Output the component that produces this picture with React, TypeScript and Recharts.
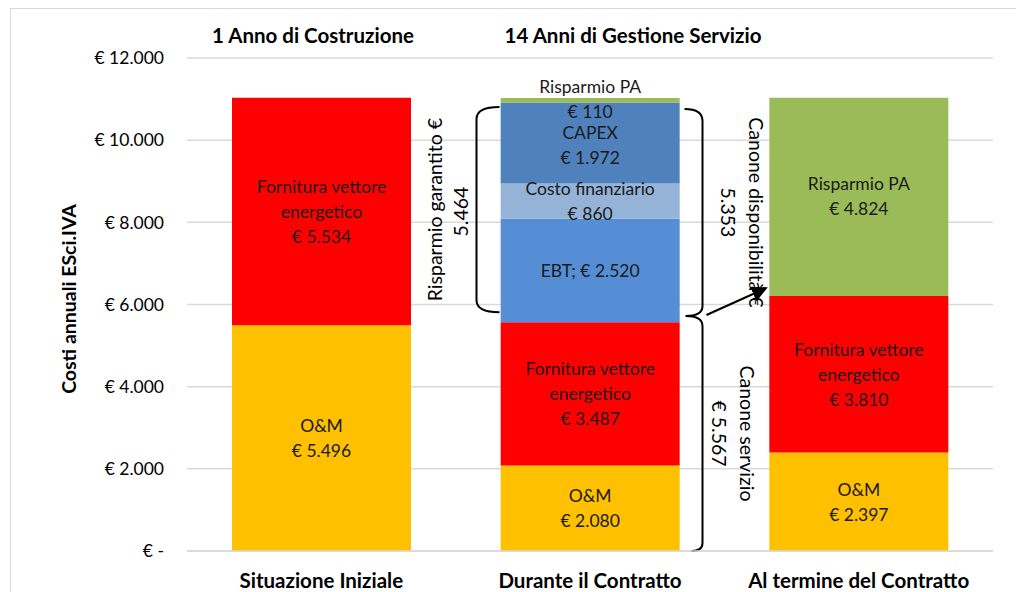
import React from 'react';
import {
  BarChart,
  Bar,
  XAxis,
  YAxis,
  CartesianGrid,
  LabelList,
  Customized,
} from 'recharts';

// ── Data ──────────────────────────────────────────────────────────────────────

const categories = ['Situazione Iniziale', 'Durante il Contratto', 'Al termine del Contratto'];
const omValues = [5496, 2080, 2397];
const fornituraValues = [5534, 3487, 3810];
const ebtValues = [0, 2520, 0];
const costoFinValues = [0, 860, 0];
const capexValues = [0, 1972, 0];
const risparmioValues = [0, 110, 4824];
const yTicks = [0, 2000, 4000, 6000, 8000, 10000, 12000];
const phaseTitles = ['1 Anno di Costruzione', '14 Anni di Gestione Servizio'];

// brace annotations (value ranges on the y axis)
const risparmioGarantito = { label: 'Risparmio garantito €', value: '5.464', from: 5810, to: 10810 };
const canoneDisponibilita = { label: 'Canone disponibilità €', value: '5.353', from: 5720, to: 10760 };
const canoneServizio = { label: 'Canone servizio', value: '€ 5.567', from: 0, to: 5720 };

const data = categories.map((name, i) => ({
  name,
  om: omValues[i],
  fornitura: fornituraValues[i],
  ebt: ebtValues[i],
  costoFin: costoFinValues[i],
  capex: capexValues[i],
  risparmio: risparmioValues[i],
}));

// ── Layout ────────────────────────────────────────────────────────────────────

const W = 1016;
const H = 592;
const PLOT_LEFT = 187;
const PLOT_RIGHT = 993;
const PLOT_TOP = 58;
const PLOT_BOTTOM = 551;
const Y_MAX = 12000;
const BAR_W = 179;
const FONT = 'Lato, "Open Sans", sans-serif';
const LABEL_SIZE = 17.5;
const NOTE_SIZE = 19.5;

const yOf = (v: number) => PLOT_TOP + (PLOT_BOTTOM - PLOT_TOP) * (1 - v / Y_MAX);
const band = (PLOT_RIGHT - PLOT_LEFT) / categories.length;
const centerOf = (i: number) => PLOT_LEFT + band * (i + 0.5);

const fmt = (v: number) => v.toString().replace(/\B(?=(\d{3})+(?!\d))/g, '.');
const fmtEuro = (v: number) => (v === 0 ? '€ -' : `€ ${fmt(v)}`);

// ── Segment labels ────────────────────────────────────────────────────────────

function segLabel(build: (v: number) => string[], shift = 0) {
  return (props: any) => {
    const value = Number(props.value);
    if (!value) return null;
    const x = Number(props.x);
    const y = Number(props.y);
    const w = Number(props.width);
    const h = Number(props.height);
    const lines = build(value);
    const lh = 25;
    const cy = y + h / 2 + shift;
    const start = cy - ((lines.length - 1) * lh) / 2;
    return (
      <text
        x={x + w / 2}
        textAnchor="middle"
        fontFamily={FONT}
        fontSize={LABEL_SIZE}
        fill="#1a1a1a"
      >
        {lines.map((l, k) => (
          <tspan key={k} x={x + w / 2} y={start + k * lh} dominantBaseline="central">
            {l}
          </tspan>
        ))}
      </text>
    );
  };
}

// ── Annotations ───────────────────────────────────────────────────────────────

function Annotations() {
  const bar2Left = centerOf(1) - BAR_W / 2;
  const bar2Right = centerOf(1) + BAR_W / 2;
  const bar3Left = centerOf(2) - BAR_W / 2;

  // left bracket
  const lTop = yOf(risparmioGarantito.to);
  const lBot = yOf(risparmioGarantito.from);
  const lTip = bar2Left - 1;
  const lV = bar2Left - 24;
  const r = 12;
  const leftPath = `M ${lTip} ${lTop} Q ${lV} ${lTop} ${lV} ${lTop + r} L ${lV} ${lBot - r} Q ${lV} ${lBot} ${lTip} ${lBot}`;

  // right brace (two parts joined by a nib)
  const rTop = yOf(canoneDisponibilita.to);
  const rJoint = yOf(canoneServizio.to);
  const rBot = yOf(canoneServizio.from);
  const rTip = bar2Right + 5;
  const rV = bar2Right + 23;
  const rightPath =
    `M ${rTip} ${rTop} Q ${rV} ${rTop} ${rV} ${rTop + r} L ${rV} ${rJoint - 10} ` +
    `Q ${rV} ${rJoint} ${rTip + 1} ${rJoint} Q ${rV} ${rJoint} ${rV} ${rJoint + 10} ` +
    `L ${rV} ${rBot - 8} Q ${rV} ${rBot} ${rTip + 7} ${rBot}`;

  // arrow from the nib to the top of fornitura in bar 3
  const ax1 = rV + 4;
  const ay1 = rJoint - 1;
  const ax2 = bar3Left + 1;
  const ay2 = yOf(omValues[2] + fornituraValues[2]) - 10;

  const lMid = (lTop + lBot) / 2;
  const rMid1 = (rTop + rJoint) / 2;
  const rMid2 = (rJoint + rBot) / 2;

  const rot = (x: number, y: number, a: number) => `rotate(${a} ${x} ${y})`;
  const tx = { fontFamily: FONT, fontSize: NOTE_SIZE, fill: '#000' } as const;
  const bold = { fontFamily: FONT, fontWeight: 700, fill: '#000' } as const;

  return (
    <g>
      <defs>
        <marker id="arrowHead" markerWidth="8" markerHeight="8" refX="6" refY="4" orient="auto" markerUnits="strokeWidth">
          <path d="M0,0 L8,4 L0,8 z" fill="#000" />
        </marker>
      </defs>
      <path d={leftPath} fill="none" stroke="#000" strokeWidth={2} />
      <path d={rightPath} fill="none" stroke="#000" strokeWidth={2} />
      <line x1={ax1} y1={ay1} x2={ax2 - 6} y2={ay2 + 3} stroke="#000" strokeWidth={2} markerEnd="url(#arrowHead)" />

      <text x={435} y={lMid} textAnchor="middle" dominantBaseline="central" transform={rot(435, lMid, -90)} {...tx}>
        {risparmioGarantito.label}
      </text>
      <text x={461} y={lMid + 2} textAnchor="middle" dominantBaseline="central" transform={rot(461, lMid + 2, -90)} {...tx}>
        {risparmioGarantito.value}
      </text>

      <text x={728} y={rMid1} textAnchor="middle" dominantBaseline="central" transform={rot(728, rMid1, 90)} {...tx}>
        {canoneDisponibilita.value}
      </text>
      <text x={756} y={rMid1} textAnchor="middle" dominantBaseline="central" transform={rot(756, rMid1, 90)} {...tx}>
        {canoneDisponibilita.label}
      </text>

      <text x={719} y={rMid2} textAnchor="middle" dominantBaseline="central" transform={rot(719, rMid2, 90)} {...tx}>
        {canoneServizio.value}
      </text>
      <text x={747} y={rMid2} textAnchor="middle" dominantBaseline="central" transform={rot(747, rMid2, 90)} {...tx}>
        {canoneServizio.label}
      </text>

      <text x={313} y={35} textAnchor="middle" dominantBaseline="central" fontSize={20.5} {...bold}>
        {phaseTitles[0]}
      </text>
      <text x={633} y={35} textAnchor="middle" dominantBaseline="central" fontSize={20.5} {...bold}>
        {phaseTitles[1]}
      </text>

      <text x={68} y={299} textAnchor="middle" dominantBaseline="central" transform={rot(68, 299, -90)} fontSize={19.5} {...bold}>
        Costi annuali ESci.IVA
      </text>
    </g>
  );
}

function XTick(props: any) {
  const { x, payload } = props;
  return (
    <text x={x} y={580} textAnchor="middle" dominantBaseline="central" fontFamily={FONT} fontSize={20.5} fontWeight={700} fill="#000">
      {payload.value}
    </text>
  );
}

// ── Component ─────────────────────────────────────────────────────────────────

export default function App() {
  return (
    <div style={{ position: 'fixed', left: 0, top: 0, width: W, height: H, overflow: 'hidden', background: '#fff' }}>
      <div
        style={{
          position: 'absolute',
          left: 10,
          top: 8,
          width: 1100,
          height: 700,
          border: '1.5px solid #d9d9d9',
        }}
      />
      <div style={{ position: 'absolute', left: 0, top: 0 }}>
        <BarChart
          width={W}
          height={H}
          data={data}
          margin={{ top: PLOT_TOP, right: W - PLOT_RIGHT, left: 0, bottom: 0 }}
          barSize={BAR_W}
        >
          <CartesianGrid vertical={false} stroke="#d9d9d9" strokeWidth={1.5} />
          <XAxis
            dataKey="name"
            height={H - PLOT_BOTTOM}
            axisLine={{ stroke: '#d9d9d9', strokeWidth: 1.5 }}
            tickLine={false}
            tick={<XTick />}
            interval={0}
          />
          <YAxis
            width={PLOT_LEFT}
            domain={[0, Y_MAX]}
            ticks={yTicks}
            axisLine={false}
            tickLine={false}
            tickMargin={17}
            tickFormatter={fmtEuro}
            tick={{ fill: '#000', fontSize: 17.5, fontFamily: FONT }}
          />
          <Bar dataKey="om" stackId="a" fill="#FFC000" isAnimationActive={false}>
            <LabelList dataKey="om" content={segLabel(v => ['O&M', fmtEuro(v)])} />
          </Bar>
          <Bar dataKey="fornitura" stackId="a" fill="#FF0000" isAnimationActive={false}>
            <LabelList dataKey="fornitura" content={segLabel(v => ['Fornitura vettore', 'energetico', fmtEuro(v)])} />
          </Bar>
          <Bar dataKey="ebt" stackId="a" fill="#558ED5" isAnimationActive={false}>
            <LabelList dataKey="ebt" content={segLabel(v => [`EBT; ${fmtEuro(v)}`])} />
          </Bar>
          <Bar dataKey="costoFin" stackId="a" fill="#95B3D7" isAnimationActive={false}>
            <LabelList dataKey="costoFin" content={segLabel(v => ['Costo finanziario', fmtEuro(v)])} />
          </Bar>
          <Bar dataKey="capex" stackId="a" fill="#4F81BD" isAnimationActive={false}>
            <LabelList dataKey="capex" content={segLabel(v => ['CAPEX', fmtEuro(v)], 2)} />
          </Bar>
          <Bar dataKey="risparmio" stackId="a" fill="#9BBB59" isAnimationActive={false}>
            <LabelList dataKey="risparmio" content={segLabel(v => ['Risparmio PA', fmtEuro(v)], -1)} />
          </Bar>
          <Customized component={<Annotations />} />
        </BarChart>
      </div>
    </div>
  );
}
